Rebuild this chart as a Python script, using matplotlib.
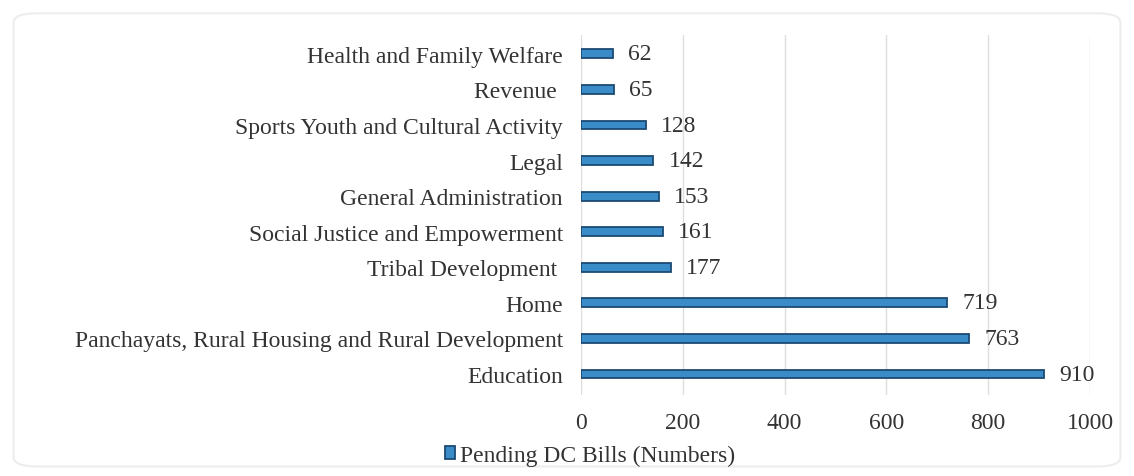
import matplotlib.pyplot as plt
from matplotlib.patches import FancyBboxPatch

departments = ["Education",
               "Panchayats, Rural Housing and Rural Development",
               "Home",
               "Tribal Development ",
               "Social Justice and Empowerment",
               "General Administration",
               "Legal",
               "Sports Youth and Cultural Activity",
               "Revenue ",
               "Health and Family Welfare"]
pending_bills = [910, 763, 719, 177, 161, 153, 142, 128, 65, 62]
x_ticks = [0, 200, 400, 600, 800, 1000]

plt.rcParams['font.family'] = ['Liberation Serif', 'DejaVu Serif']

fig = plt.figure(figsize=(11.34, 4.77), dpi=100)

# faint outer frame like the original chart box
frame = FancyBboxPatch((0.012, 0.02), 0.976, 0.95, boxstyle="round,pad=0,rounding_size=0.02",
                       transform=fig.transFigure, facecolor='none', edgecolor='#ededed', lw=1.5,
                       zorder=-1)
fig.patches.append(frame)

ax = fig.add_axes([0.5123, 0.1698, 0.4489, 0.7547])
ax.set_facecolor('none')

ypos = list(range(len(departments)))
bars = ax.barh(ypos, pending_bills, height=0.25, color='#3a8cc8',
               edgecolor='#1c4a73', linewidth=1.3, label='Pending DC Bills (Numbers)', zorder=3)

for y, v in zip(ypos, pending_bills):
    ax.text(v + 30, y, str(v), va='center', ha='left', fontsize=17, color='#333333')

ax.set_xlim(0, 1000)
ax.set_ylim(-0.59, 9.53)
ax.set_xticks(x_ticks)
ax.set_xticklabels([str(t) for t in x_ticks], fontsize=17, color='#333333')
ax.set_yticks(ypos)
ax.set_yticklabels(departments, fontsize=17, color='#333333')
ax.tick_params(axis='both', length=0)
ax.tick_params(axis='y', pad=13)
ax.tick_params(axis='x', pad=12)
ax.grid(axis='x', color='#dedede', linewidth=1, zorder=0)
for s in ax.spines.values():
    s.set_visible(False)

fig.legend(handles=[bars], labels=['Pending DC Bills (Numbers)'], loc='center',
           bbox_to_anchor=(590 / 1134, 1 - 456 / 477), frameon=False, fontsize=17,
           handlelength=0.45, handleheight=0.45, handletextpad=0.2, labelcolor='#333333')

fig.savefig('out.png', dpi=100, facecolor='white')
